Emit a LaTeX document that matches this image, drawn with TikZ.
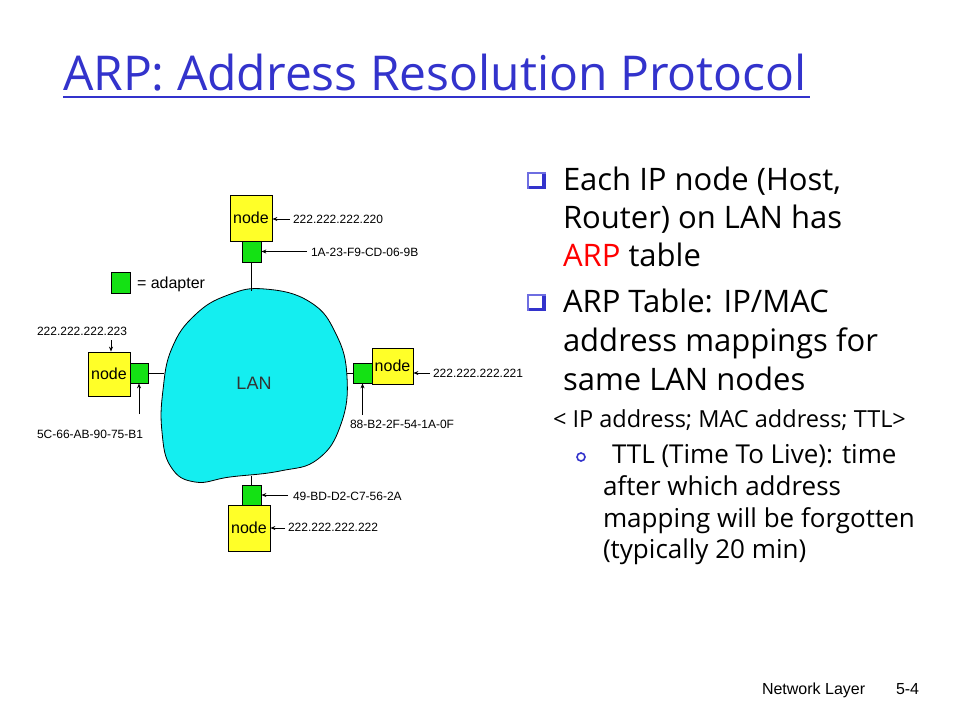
\documentclass[tikz,border=0pt]{standalone}
\usepackage{fontspec}
\setmainfont{Open Sans}
\newfontfamily\labfont{Liberation Sans}
\usetikzlibrary{arrows.meta}
\definecolor{titleblue}{RGB}{51,51,204}
\definecolor{lightblue}{RGB}{110,110,225}
\definecolor{lancyan}{RGB}{20,238,240}
\definecolor{nodeyellow}{RGB}{255,255,40}
\definecolor{adaptgreen}{RGB}{20,225,20}
\tikzset{
  txt/.style={anchor=base west, inner sep=0pt, outer sep=0pt},
  big/.style={txt, font=\fontsize{31}{31}\selectfont},
  small/.style={txt, font=\fontsize{26}{26}\selectfont},
  lab/.style={txt, font=\labfont\fontsize{12}{12}\selectfont},
  hostbox/.style={draw=black, fill=nodeyellow, line width=0.8pt, inner sep=0pt,
    font=\labfont\fontsize{16}{16}\selectfont},
  adapt/.style={draw=black, fill=adaptgreen, line width=0.8pt, inner sep=0pt},
  arr/.style={-{Stealth[length=5pt,width=4pt]}, line width=0.8pt},
  wire/.style={line width=0.8pt},
}
\newcommand{\sqbullet}[2]{%
  \fill[lightblue] (#1,#2) rectangle ++(19,17);
  \fill[titleblue] (#1+1.5,#2+1.5) rectangle (#1+19,#2+17);
  \fill[white] (#1+1.5,#2+1.5) rectangle (#1+15,#2+13.5);
}
\begin{document}
\begin{tikzpicture}[x=1pt,y=-1pt]
\useasboundingbox (0,0) rectangle (960,720);
\fill[white] (0,0) rectangle (960,720);

% title
\node[txt, font=\fontsize{48}{48}\selectfont, text=titleblue] (title) at (63,90) {ARP: Address Resolution Protocol};
\draw[titleblue, line width=2.2pt] (63,97) -- (810,97);

% LAN blob
\draw[fill=lancyan, line width=0.8pt] plot[smooth cycle, tension=0.75] coordinates {
  (265,289) (310,302) (336,334) (347,377) (341,424) (318,459) (280,471)
  (230,477) (195,482) (171,467) (162,432) (163,390) (172,348) (195,315) (228,295)};
\node[font=\labfont\fontsize{18}{18}\selectfont, text=black!80] (lan) at (254,383) {LAN};

% legend
\node[adapt, minimum width=19pt, minimum height=21pt] (legsq) at (120.5,282.5) {};
\node[txt, font=\labfont\fontsize{16}{16}\selectfont] (legtxt) at (137,288) {= adapter};

% top host
\node[hostbox, minimum width=42pt, minimum height=46pt] (n1) at (251,218) {node};
\node[adapt, minimum width=19pt, minimum height=21pt] (a1) at (251.5,251.5) {};
\coordinate (lantop) at (251.5,290.5);
\draw[wire] (a1.south) -- (lantop);
\node[lab] (l220) at (293,223) {222.222.222.220};
\coordinate (s220) at (290,219);
\draw[arr] (s220) -- (n1.east |- s220);
\node[lab] (l9b) at (311,256) {1A-23-F9-CD-06-9B};
\coordinate (s9b) at (307,251.5);
\draw[arr] (s9b) -- (a1.east |- s9b);

% left host
\node[hostbox, minimum width=42pt, minimum height=44pt] (n2) at (109,374) {node};
\node[adapt, minimum width=18pt, minimum height=20pt] (a2) at (139,373) {};
\coordinate (lanleft) at (164,373);
\draw[wire] (a2.east) -- (lanleft);
\node[lab] (l223) at (37,335) {222.222.222.223};
\coordinate (s223) at (111,340);
\draw[arr] (s223) -- (s223 |- n2.north);
\node[lab] (lb1) at (37,438) {5C-66-AB-90-75-B1};
\coordinate (sb1) at (139,414);
\draw[arr] (sb1) -- (a2.south);

% right host
\node[hostbox, minimum width=41pt, minimum height=36pt] (n3) at (392.5,366) {node};
\node[adapt, minimum width=19pt, minimum height=20pt] (a3) at (362.5,373) {};
\coordinate (lanright) at (346.5,373);
\draw[wire] (lanright) -- (a3.west);
\node[lab] (l221) at (433,377) {222.222.222.221};
\coordinate (s221) at (430,373);
\draw[arr] (s221) -- (n3.east |- s221);
\node[lab] (l0f) at (350,428) {88-B2-2F-54-1A-0F};
\coordinate (s0f) at (362.5,415);
\draw[arr] (s0f) -- (a3.south);

% bottom host
\node[hostbox, minimum width=42pt, minimum height=46pt] (n4) at (249,528) {node};
\node[adapt, minimum width=19pt, minimum height=20pt] (a4) at (251.5,495) {};
\coordinate (lanbot) at (251.5,476);
\draw[wire] (lanbot) -- (a4.north);
\node[lab] (l2a) at (293,500) {49-BD-D2-C7-56-2A};
\coordinate (s2a) at (288,495);
\draw[arr] (s2a) -- (a4.east |- s2a);
\node[lab] (l222) at (288,531) {222.222.222.222};
\coordinate (s222) at (285,528);
\draw[arr] (s222) -- (n4.east |- s222);

% right-hand text
\sqbullet{527}{172}
\node[big] (t1) at (563,190) {Each IP node (Host,};
\node[big] (t2) at (563,228) {Router) on LAN has};
\node[big] (t3) at (563,266) {\textcolor{red}{ARP} table};
\sqbullet{527}{294}
\node[big] (t4) at (563,312) {ARP Table: IP/MAC};
\node[big] (t5) at (563,351) {address mappings for};
\node[big] (t6) at (563,390) {same LAN nodes};
\node[txt, font=\fontsize{23.5}{23.5}\selectfont] (t7) at (553,427) {< IP address; MAC address; TTL>};
\draw[titleblue, line width=1.6pt] (581,457) circle (4);
\node[small] (t8) at (612,463) {TTL (Time To Live): time};
\node[small] (t9) at (603,495) {after which address};
\node[small] (t10) at (603,527) {mapping will be forgotten};
\node[small] (t11) at (603,558) {(typically 20 min)};

% footer
\node[txt, font=\labfont\fontsize{16}{16}\selectfont] (foot1) at (762,694) {Network Layer};
\node[txt, font=\labfont\fontsize{16}{16}\selectfont] (foot2) at (896,694) {5-4};
\end{tikzpicture}
\end{document}
